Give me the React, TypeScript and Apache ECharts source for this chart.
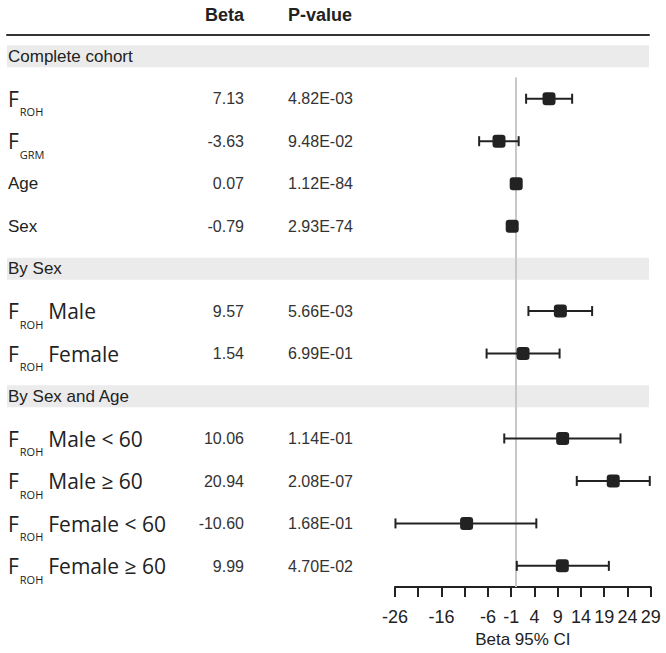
import React, { useEffect, useRef } from 'react';
import * as echarts from 'echarts';

const rowKind = ['group', 'item', 'item', 'item', 'item', 'group', 'item', 'item', 'group', 'item', 'item', 'item', 'item'];
const rowMain = ['Complete cohort', 'F', 'F', 'Age', 'Sex', 'By Sex', 'F', 'F', 'By Sex and Age', 'F', 'F', 'F', 'F'];
const rowSub = ['', 'ROH', 'GRM', '', '', '', 'ROH', 'ROH', '', 'ROH', 'ROH', 'ROH', 'ROH'];
const rowSuffix = ['', '', '', '', '', '', 'Male', 'Female', '', 'Male < 60', 'Male ≥ 60', 'Female < 60', 'Female ≥ 60'];
const betaValues = [null, 7.13, -3.63, 0.07, -0.79, null, 9.57, 1.54, null, 10.06, 20.94, -10.6, 9.99];
const pValues = ['', '4.82E-03', '9.48E-02', '1.12E-84', '2.93E-74', '', '5.66E-03', '6.99E-01', '', '1.14E-01', '2.08E-07', '1.68E-01', '4.70E-02'];
const ciLow = [null, 2.2, -7.9, 0.06, -0.87, null, 2.7, -6.3, null, -2.5, 13.1, -25.9, 0.2];
const ciHigh = [null, 12.1, 0.6, 0.08, -0.71, null, 16.4, 9.4, null, 22.5, 28.8, 4.4, 20.0];
const xTicks = [-26, -21, -16, -11, -6, -1, 4, 9, 14, 19, 24, 29];
const xTickLabels = [-26, -16, -6, -1, 4, 9, 14, 19, 24, 29];
const headerBeta = 'Beta';
const headerP = 'P-value';
const xTitle = 'Beta 95% CI';

const INK = '#222';
const TABLE_FONT = 'Liberation Sans, Arial, sans-serif';
const F_FONT = 'Open Sans, Noto Sans, sans-serif';

function labelFor(i: number): string {
  if (rowSub[i]) {
    return `{F|${rowMain[i]}}{sub|${rowSub[i]}}` + (rowSuffix[i] ? `{txt|${rowSuffix[i]}}` : '');
  }
  return `{plain|${rowMain[i]}}`;
}

export default function App() {
  const ref = useRef<HTMLDivElement>(null);
  useEffect(() => {
    if (!ref.current) return;
    const chart = echarts.init(ref.current, undefined, { renderer: 'svg' });
    const ids = rowKind.map((_, i) => String(i));
    const forestIds = ids.slice(1);

    const ciData: number[][] = [];
    const boxData: number[][] = [];
    for (let i = 1; i < rowKind.length; i++) {
      if (ciLow[i] != null && ciHigh[i] != null) ciData.push([ciLow[i] as number, ciHigh[i] as number, i - 1]);
      if (betaValues[i] != null) boxData.push([betaValues[i] as number, i - 1]);
    }

    const hiddenCat = (extra: any) => ({
      type: 'category',
      gridIndex: 0,
      position: 'left',
      offset: 0,
      data: ids,
      inverse: true,
      axisLine: { show: false },
      axisTick: { show: false },
      splitLine: { show: false },
      ...extra,
    });

    chart.setOption({
      animation: false,
      grid: [
        { left: 7, right: 17, top: 35, bottom: 65.5 },
        { left: 395, right: 15.3, top: 77.5, bottom: 65.5 },
      ],
      xAxis: [
        {
          type: 'value',
          gridIndex: 0,
          min: 0,
          max: 1,
          position: 'top',
          axisLine: { show: true, onZero: false, lineStyle: { color: '#333', width: 2 } },
          axisTick: { show: false },
          axisLabel: { show: false },
          splitLine: { show: false },
        },
        {
          type: 'value',
          gridIndex: 1,
          min: -26,
          max: 29,
          axisLine: { show: true, onZero: false, lineStyle: { color: INK, width: 2 } },
          axisTick: { show: true, length: 10, lineStyle: { color: INK, width: 2 }, customValues: xTicks },
          axisLabel: {
            customValues: xTickLabels,
            color: INK,
            fontSize: 18,
            fontFamily: TABLE_FONT,
            margin: 21,
          },
          splitLine: { show: false },
          name: xTitle,
          nameLocation: 'middle',
          nameGap: 43,
          nameTextStyle: { color: INK, fontSize: 17, fontFamily: TABLE_FONT },
        },
      ],
      yAxis: [
        hiddenCat({
          axisLabel: {
            interval: 0,
            align: 'left',
            margin: -1,
            formatter: (v: string) => labelFor(Number(v)),
            rich: {
              plain: { fontSize: 17, fontFamily: TABLE_FONT, color: INK },
              F: { fontSize: 21, fontFamily: F_FONT, color: INK },
              sub: { fontSize: 11, fontFamily: F_FONT, color: INK, padding: [26, 5, 0, 1] },
              txt: { fontSize: 21, fontFamily: F_FONT, color: INK },
            },
          },
        }),
        hiddenCat({
          axisLabel: {
            interval: 0,
            align: 'right',
            margin: -237,
            color: '#333',
            fontSize: 16,
            fontFamily: TABLE_FONT,
            formatter: (v: string) => {
              const b = betaValues[Number(v)];
              return b == null ? '' : b.toFixed(2);
            },
          },
        }),
        hiddenCat({
          axisLabel: {
            interval: 0,
            align: 'left',
            margin: -281,
            color: '#333',
            fontSize: 16,
            fontFamily: TABLE_FONT,
            formatter: (v: string) => pValues[Number(v)],
          },
        }),
        {
          type: 'category',
          gridIndex: 1,
          data: forestIds,
          inverse: true,
          show: false,
        },
      ],
      graphic: [
        {
          type: 'text',
          x: 244,
          y: 15,
          style: { text: headerBeta, align: 'right', verticalAlign: 'middle', font: `bold 18px ${TABLE_FONT}`, fill: INK },
        },
        {
          type: 'text',
          x: 288,
          y: 15,
          style: { text: headerP, align: 'left', verticalAlign: 'middle', font: `bold 18px ${TABLE_FONT}`, fill: INK },
        },
      ],
      series: [
        {
          type: 'bar',
          xAxisIndex: 0,
          yAxisIndex: 0,
          data: rowKind.map((k) => (k === 'group' ? 1 : '-')),
          barWidth: 22,
          itemStyle: { color: '#ebebeb' },
          silent: true,
          z: 0,
        },
        {
          type: 'custom',
          xAxisIndex: 1,
          yAxisIndex: 3,
          z: 2,
          silent: true,
          encode: { x: [0, 1], y: 2 },
          data: ciData,
          renderItem: (params: any, api: any) => {
            const y = api.value(2);
            const p1 = api.coord([api.value(0), y]);
            const p2 = api.coord([api.value(1), y]);
            const h = 5;
            const style = { stroke: INK, lineWidth: 2 };
            return {
              type: 'group',
              children: [
                { type: 'line', shape: { x1: p1[0], y1: p1[1], x2: p2[0], y2: p2[1] }, style },
                { type: 'line', shape: { x1: p1[0], y1: p1[1] - h, x2: p1[0], y2: p1[1] + h }, style },
                { type: 'line', shape: { x1: p2[0], y1: p2[1] - h, x2: p2[0], y2: p2[1] + h }, style },
              ],
            };
          },
        },
        {
          type: 'scatter',
          xAxisIndex: 1,
          yAxisIndex: 3,
          z: 3,
          silent: true,
          symbol: 'roundRect',
          symbolSize: 13,
          itemStyle: { color: INK, opacity: 1 },
          data: boxData,
          markLine: {
            silent: true,
            symbol: 'none',
            label: { show: false },
            lineStyle: { color: '#c8c8c8', width: 2, type: 'solid' },
            data: [{ xAxis: 0 }],
            z: 1,
          },
        },
      ],
    });
    return () => chart.dispose();
  }, []);
  return <div ref={ref} style={{ position: 'fixed', left: 0, top: 0, width: 666, height: 653, background: '#fff' }} />;
}
